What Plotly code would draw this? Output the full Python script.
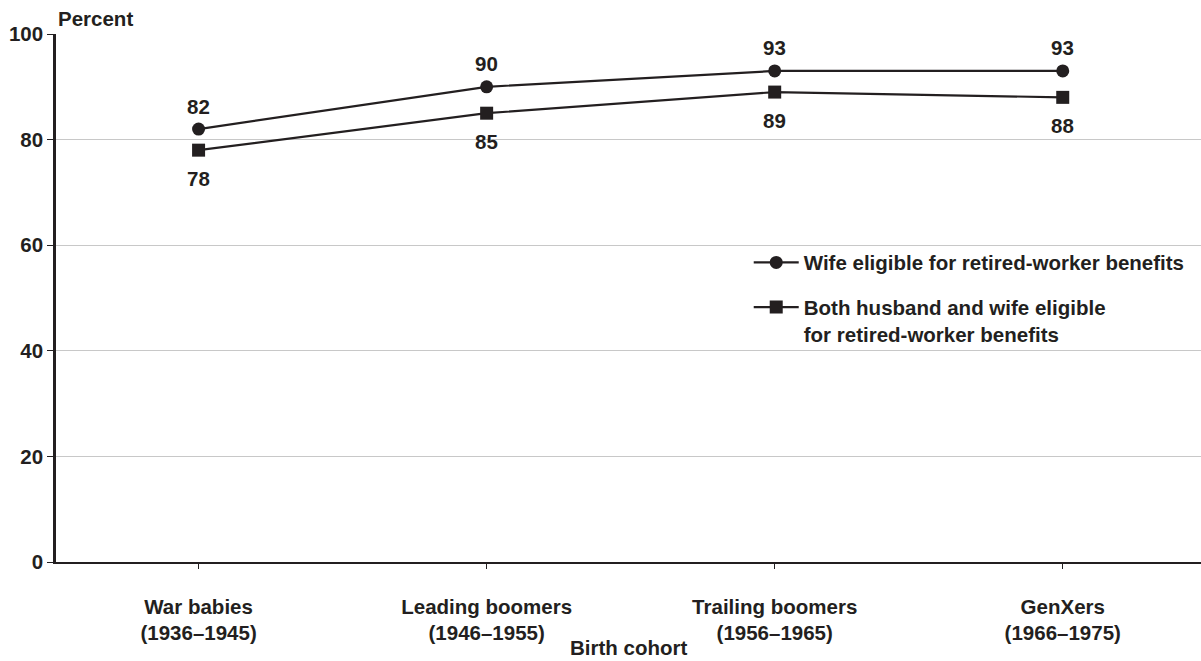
import plotly.graph_objects as go

# Birth cohorts (x categories) and the share of married couples eligible
cohorts = [
    "War babies<br>(1936–1945)",
    "Leading boomers<br>(1946–1955)",
    "Trailing boomers<br>(1956–1965)",
    "GenXers<br>(1966–1975)",
]
wife_eligible = [82, 90, 93, 93]
both_eligible = [78, 85, 89, 88]

series_names = [
    "Wife eligible for retired-worker benefits",
    "Both husband and wife eligible<br>for retired-worker benefits",
]

y_ticks = [0, 20, 40, 60, 80, 100]

INK = "#231f20"
FONT = "Liberation Sans, Arial, Helvetica, sans-serif"
FS = 20.5


def bold(size=FS):
    return dict(family=FONT, size=size, color=INK, weight="bold")


fig = go.Figure()
fig.add_trace(go.Scatter(
    x=list(range(len(cohorts))), y=wife_eligible, name=series_names[0],
    mode="lines+markers", legendgroup="a",
    line=dict(color=INK, width=2.2),
    marker=dict(symbol="circle", size=13, color=INK),
))
fig.add_trace(go.Scatter(
    x=list(range(len(cohorts))), y=both_eligible, name=series_names[1],
    mode="lines+markers", legendgroup="b",
    line=dict(color=INK, width=2.2),
    marker=dict(symbol="square", size=13, color=INK),
))

# value labels: above for the wife series, below for the joint series
annotations = []
for i, v in enumerate(wife_eligible):
    annotations.append(dict(x=i, y=v, text=str(v), showarrow=False, yshift=23, font=bold()))
for i, v in enumerate(both_eligible):
    annotations.append(dict(x=i, y=v, text=str(v), showarrow=False, yshift=-28, font=bold()))
# y-axis caption above the axis
annotations.append(dict(xref="paper", yref="paper", x=0, y=1, xanchor="left", yanchor="middle",
                        yshift=16, text="Percent", showarrow=False, font=bold()))
# x-axis caption below the tick labels
annotations.append(dict(xref="paper", yref="paper", x=0.5, y=0, xanchor="center", yanchor="middle",
                        yshift=-85, text="Birth cohort", showarrow=False, font=bold()))

fig.update_layout(
    width=1201, height=661,
    margin=dict(l=56, r=0, t=34, b=99),
    paper_bgcolor="white", plot_bgcolor="white",
    font=bold(),
    showlegend=True,
    legend=dict(
        x=0.605, y=0.605, xanchor="left", yanchor="top", valign="top",
        bgcolor="rgba(0,0,0,0)", itemwidth=45, tracegroupgap=15,
        font=bold(), itemclick=False,
    ),
    annotations=annotations,
)

fig.update_xaxes(
    range=[-0.495, 3.48],
    tickmode="array", tickvals=list(range(len(cohorts))), ticktext=cohorts,
    ticks="outside", ticklen=5, tickwidth=1, tickcolor=INK,
    ticklabelstandoff=20,
    showline=True, linecolor=INK, linewidth=2,
    showgrid=False, zeroline=False,
    tickfont=bold(),
)
fig.update_yaxes(
    range=[0, 100], tickvals=y_ticks,
    ticks="outside", ticklen=6, tickwidth=1, tickcolor=INK,
    showline=True, linecolor=INK, linewidth=2.5,
    showgrid=True, gridcolor="#c8c8c8", gridwidth=1,
    zeroline=False,
    tickfont=bold(),
)

fig.write_html("out.html")
